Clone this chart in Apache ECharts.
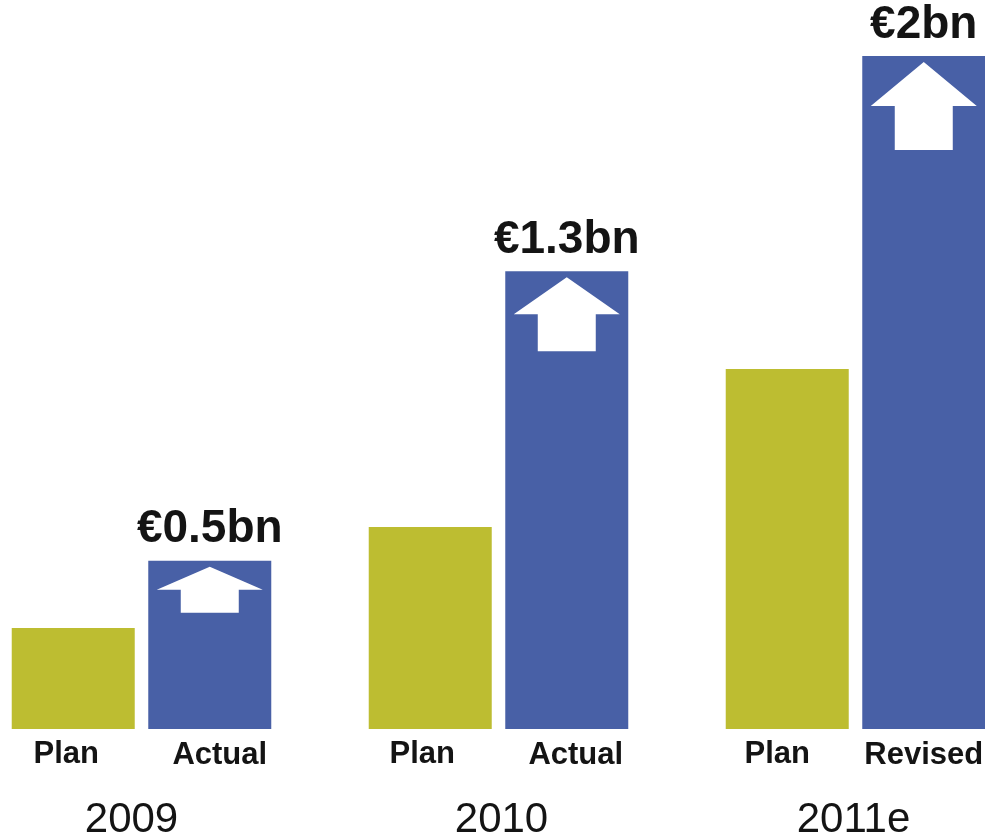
<!DOCTYPE html>
<html><head><meta charset="utf-8">
<script src="https://cdn.jsdelivr.net/npm/echarts@6/dist/echarts.min.js"></script>
<style>html,body{margin:0;padding:0;background:#fff}#c{width:985px;height:834px}</style>
</head><body><div id="c"></div>
<script>
// ---- data ----
const years = ['2009', '2010', '2011e'];
const planValues = [0.30, 0.60, 1.07];
const actualValues = [0.50, 1.36, 2.00];
const planNames = ['Plan', 'Plan', 'Plan'];
const actualNames = ['Actual', 'Actual', 'Revised'];
const actualLabels = ['€0.5bn', '€1.3bn', '€2bn'];

// ---- styles ----
const arrowHeights = [46, 74, 88];
const planNameShift = [-7, -8, -10];
const actualNameShift = [10, 9, 0];
const yearPadRight = [20, -6, 4];
const OLIVE = '#BDBD31';
const BLUE = '#4860A6';
const TXT = '#141414';
const FONT = '"Liberation Sans", Arial, sans-serif';
const arrowPath = 'path://M53,0 L106,50 L82,50 L82,100 L24,100 L24,50 L0,50 Z';

const markData = [];
years.forEach((y, i) => {
  markData.push({
    coord: [i, actualValues[i]],
    symbol: arrowPath,
    symbolKeepAspect: false,
    symbolSize: [106, arrowHeights[i]],
    symbolOffset: [0, 6 + arrowHeights[i] / 2],
    itemStyle: { color: '#ffffff' },
    label: { show: false }
  });
  markData.push({
    coord: [i, 0],
    symbol: 'rect',
    symbolSize: 1,
    itemStyle: { color: 'rgba(0,0,0,0)' },
    label: {
      show: true, position: 'bottom', distance: 10,
      offset: [actualNameShift[i], 0],
      formatter: actualNames[i],
      fontFamily: FONT, fontWeight: 'bold', fontSize: 31, color: TXT
    }
  });
});

const planData = planValues.map((v, i) => ({
  value: v,
  label: { offset: [planNameShift[i], 0] }
}));

const yearData = years.map((y, i) => ({
  value: y,
  textStyle: yearPadRight[i] >= 0
    ? { padding: [0, yearPadRight[i], 0, 0] }
    : { padding: [0, 0, 0, -yearPadRight[i]] }
}));

const chart = echarts.init(document.getElementById('c'));
chart.setOption({
  animation: false,
  backgroundColor: '#ffffff',
  grid: { left: -37, right: -49, top: 56, bottom: 105, containLabel: false, outerBoundsMode: 'none' },
  xAxis: {
    type: 'category',
    data: yearData,
    axisLine: { show: false },
    axisTick: { show: false },
    axisLabel: { margin: 70, fontFamily: FONT, fontSize: 42, color: TXT }
  },
  yAxis: { type: 'value', min: 0, max: 2, show: false, splitLine: { show: false } },
  series: [
    {
      name: 'Plan', type: 'bar', data: planData,
      barWidth: 123, barGap: '11%',
      itemStyle: { color: OLIVE },
      label: {
        show: true, position: 'bottom', distance: 10,
        formatter: p => planNames[p.dataIndex],
        fontFamily: FONT, fontWeight: 'bold', fontSize: 31, color: TXT
      }
    },
    {
      name: 'Actual', type: 'bar', data: actualValues,
      barWidth: 123, barGap: '11%',
      itemStyle: { color: BLUE },
      label: {
        show: true, position: 'top', distance: 8,
        formatter: p => actualLabels[p.dataIndex],
        fontFamily: FONT, fontWeight: 'bold', fontSize: 46, color: TXT
      },
      markPoint: { silent: true, animation: false, data: markData }
    }
  ]
});
</script></body></html>
